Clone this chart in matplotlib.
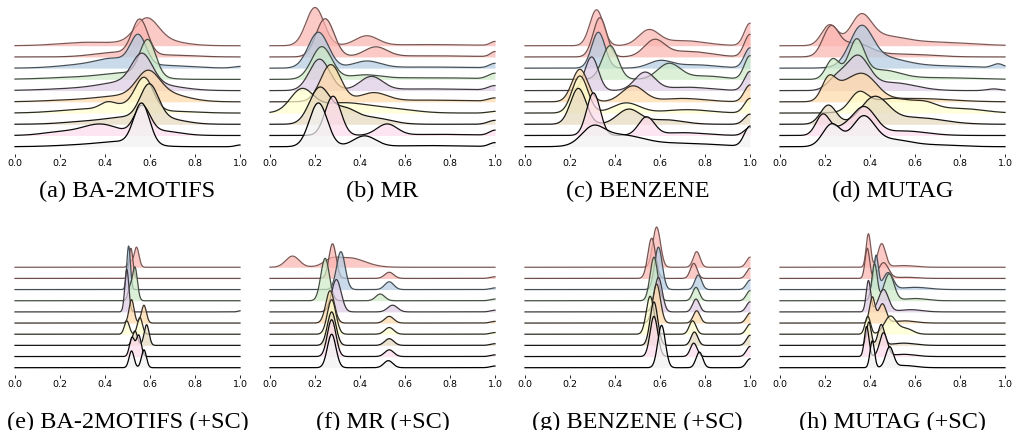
import numpy as np
import matplotlib.pyplot as plt
from matplotlib.colors import to_rgb

# ridge shapes, top ridge first: (centre, width, height in rows)
ba2motifs = [
    [(0.585, 0.05, 1.9), (0.62, 0.1, 0.6), (0.32, 0.12, 0.3)],
    [(0.555, 0.035, 3.1), (0.45, 0.1, 0.4), (0.7, 0.1, 0.15)],
    [(0.548, 0.035, 2.6), (0.44, 0.07, 0.6), (0.33, 0.12, 0.35), (0.65, 0.12, 0.25), (1.0, 0.03, 0.15)],
    [(0.59, 0.035, 3.2), (0.5, 0.1, 0.5), (0.3, 0.15, 0.2)],
    [(0.565, 0.045, 2.6), (0.48, 0.1, 0.6), (0.65, 0.1, 0.4), (0.3, 0.15, 0.2)],
    [(0.59, 0.05, 2.0), (0.65, 0.1, 0.8), (0.45, 0.1, 0.4), (0.25, 0.12, 0.15)],
    [(0.575, 0.04, 2.8), (0.48, 0.08, 0.6), (0.41, 0.03, 0.4), (0.3, 0.12, 0.3), (0.7, 0.1, 0.15)],
    [(0.597, 0.04, 3.0), (0.5, 0.1, 0.6), (0.3, 0.1, 0.2), (0.68, 0.08, 0.4)],
    [(0.565, 0.035, 2.4), (0.38, 0.08, 1.0), (0.65, 0.08, 0.4), (0.2, 0.08, 0.3)],
    [(0.563, 0.035, 3.6), (0.48, 0.1, 0.4), (0.3, 0.12, 0.15), (1.0, 0.02, 0.15)],
]
mr = [
    [(0.2, 0.04, 3.4), (0.43, 0.05, 0.85), (1.0, 0.02, 0.35), (0.7, 0.2, 0.1)],
    [(0.245, 0.04, 3.4), (0.47, 0.05, 0.85), (1.0, 0.02, 0.45), (0.7, 0.2, 0.1)],
    [(0.215, 0.045, 3.2), (0.43, 0.06, 0.6), (1.0, 0.025, 0.4), (0.7, 0.2, 0.1)],
    [(0.23, 0.045, 2.9), (0.42, 0.07, 0.35), (1.0, 0.03, 0.5), (0.7, 0.2, 0.15)],
    [(0.22, 0.045, 2.8), (0.45, 0.05, 1.2), (1.0, 0.03, 0.4), (0.7, 0.2, 0.15)],
    [(0.27, 0.045, 3.3), (0.46, 0.06, 0.75), (1.0, 0.03, 0.3), (0.7, 0.2, 0.15)],
    [(0.14, 0.05, 1.9), (0.32, 0.12, 0.9), (0.55, 0.1, 0.3), (1.0, 0.03, 0.15)],
    [(0.22, 0.045, 3.2), (0.33, 0.05, 1.2), (0.45, 0.08, 0.6), (1.0, 0.03, 0.35)],
    [(0.28, 0.035, 3.5), (0.52, 0.045, 1.0), (1.0, 0.025, 0.45), (0.75, 0.15, 0.1)],
    [(0.215, 0.04, 3.9), (0.42, 0.05, 0.95), (1.0, 0.025, 0.35), (0.7, 0.15, 0.1)],
]
benzene = [
    [(0.318, 0.03, 3.2), (0.55, 0.045, 1.3), (0.7, 0.1, 0.45), (1.0, 0.025, 2.0)],
    [(0.333, 0.03, 3.5), (0.575, 0.045, 1.4), (0.72, 0.1, 0.5), (1.0, 0.025, 2.0)],
    [(0.326, 0.03, 3.2), (0.6, 0.05, 0.6), (0.75, 0.1, 0.3), (1.0, 0.025, 1.8)],
    [(0.378, 0.035, 3.0), (0.64, 0.05, 1.4), (0.8, 0.08, 0.3), (1.0, 0.025, 2.1)],
    [(0.296, 0.03, 3.0), (0.533, 0.045, 1.6), (0.72, 0.1, 0.3), (1.0, 0.025, 1.7)],
    [(0.244, 0.035, 2.9), (0.48, 0.05, 1.4), (0.7, 0.1, 0.3), (1.0, 0.025, 1.5)],
    [(0.244, 0.035, 3.3), (0.45, 0.06, 0.9), (0.72, 0.1, 0.3), (1.0, 0.025, 1.3)],
    [(0.237, 0.035, 3.2), (0.46, 0.05, 1.3), (0.62, 0.08, 0.4), (1.0, 0.025, 0.9)],
    [(0.304, 0.03, 3.8), (0.54, 0.035, 1.6), (0.7, 0.1, 0.25), (1.0, 0.025, 0.7)],
    [(0.3, 0.05, 1.4), (0.42, 0.1, 1.0), (0.7, 0.15, 0.3), (1.0, 0.025, 1.8)],
]
mutag = [
    [(0.22, 0.035, 1.8), (0.36, 0.045, 2.3), (0.45, 0.1, 0.8), (0.7, 0.15, 0.3)],
    [(0.225, 0.035, 2.4), (0.33, 0.07, 1.2), (0.55, 0.12, 0.25)],
    [(0.36, 0.05, 3.2), (0.45, 0.1, 0.9), (0.97, 0.025, 0.35), (0.7, 0.15, 0.2)],
    [(0.34, 0.035, 3.3), (0.235, 0.03, 1.8), (0.45, 0.08, 0.8), (0.7, 0.15, 0.15)],
    [(0.345, 0.05, 2.9), (0.25, 0.04, 1.0), (0.5, 0.1, 0.7), (0.95, 0.03, 0.15)],
    [(0.215, 0.03, 1.7), (0.37, 0.06, 2.3), (0.27, 0.05, 1.0), (0.6, 0.15, 0.3)],
    [(0.35, 0.04, 1.5), (0.5, 0.1, 1.3), (0.65, 0.05, 0.5), (0.8, 0.1, 0.4)],
    [(0.215, 0.035, 1.7), (0.42, 0.06, 2.3), (0.6, 0.12, 0.6)],
    [(0.19, 0.03, 1.8), (0.375, 0.05, 2.4), (0.28, 0.05, 0.6), (0.55, 0.1, 0.4)],
    [(0.23, 0.04, 2.0), (0.37, 0.05, 2.6), (0.5, 0.08, 0.6), (0.7, 0.1, 0.15)],
]
ba2motifs_sc = [
    [(0.54, 0.011, 1.8), (0.51, 0.009, 0.5)],
    [(0.515, 0.009, 2.7)],
    [(0.505, 0.008, 3.9)],
    [(0.533, 0.011, 3.0), (0.51, 0.009, 1.0)],
    [(0.497, 0.009, 3.8), (1.0, 0.01, 0.1)],
    [(0.518, 0.011, 2.1), (0.573, 0.011, 1.6)],
    [(0.497, 0.011, 1.2), (0.555, 0.011, 1.5)],
    [(0.533, 0.011, 1.3), (0.585, 0.011, 1.85)],
    [(0.52, 0.011, 1.7), (0.55, 0.011, 1.9)],
    [(0.518, 0.011, 1.5), (0.573, 0.011, 1.6)],
]
mr_sc = [
    [(0.1, 0.03, 1.0), (0.35, 0.07, 0.85), (0.27, 0.03, 0.4)],
    [(0.278, 0.016, 3.1), (0.53, 0.02, 0.55), (1.0, 0.02, 0.15)],
    [(0.315, 0.019, 3.4), (0.53, 0.02, 0.7), (1.0, 0.02, 0.15)],
    [(0.245, 0.019, 3.8), (0.49, 0.02, 0.6), (1.0, 0.02, 0.15)],
    [(0.295, 0.021, 2.9), (0.545, 0.022, 0.6), (1.0, 0.02, 0.15)],
    [(0.267, 0.019, 2.9), (0.53, 0.02, 0.6), (1.0, 0.02, 0.15)],
    [(0.274, 0.019, 3.1), (0.53, 0.02, 0.6), (1.0, 0.02, 0.15)],
    [(0.274, 0.019, 3.0), (0.53, 0.02, 0.6), (1.0, 0.02, 0.15)],
    [(0.274, 0.019, 3.3), (0.53, 0.02, 0.6), (1.0, 0.02, 0.15)],
    [(0.274, 0.019, 3.0), (0.526, 0.02, 0.63), (1.0, 0.02, 0.15)],
]
benzene_sc = [
    [(0.585, 0.017, 3.6), (0.763, 0.015, 1.4), (1.0, 0.016, 0.9)],
    [(0.563, 0.017, 3.6), (0.75, 0.015, 1.35), (1.0, 0.016, 0.9)],
    [(0.593, 0.017, 3.8), (0.77, 0.015, 1.3), (1.0, 0.016, 0.85)],
    [(0.573, 0.017, 3.9), (0.76, 0.015, 1.2), (1.0, 0.016, 0.9)],
    [(0.593, 0.017, 3.1), (0.76, 0.015, 1.15), (1.0, 0.016, 0.9)],
    [(0.585, 0.017, 3.5), (0.763, 0.015, 1.1), (1.0, 0.016, 0.9)],
    [(0.556, 0.017, 3.4), (0.745, 0.015, 1.2), (1.0, 0.016, 0.9)],
    [(0.573, 0.017, 3.9), (0.753, 0.015, 1.2), (1.0, 0.016, 0.9)],
    [(0.573, 0.017, 3.6), (0.75, 0.015, 1.2), (1.0, 0.016, 0.9)],
    [(0.607, 0.017, 3.8), (0.775, 0.015, 1.4), (1.0, 0.016, 0.8)],
]
mutag_sc = [
    [(0.393, 0.01, 3.0), (0.452, 0.017, 2.1), (0.55, 0.05, 0.15)],
    [(0.388, 0.01, 2.7), (0.46, 0.022, 1.4), (0.56, 0.05, 0.1)],
    [(0.427, 0.01, 3.0), (0.48, 0.022, 1.5), (0.6, 0.06, 0.2)],
    [(0.42, 0.012, 3.3), (0.485, 0.022, 2.4), (0.6, 0.05, 0.2)],
    [(0.393, 0.01, 2.8), (0.46, 0.022, 2.0), (0.58, 0.05, 0.2)],
    [(0.41, 0.012, 2.3), (0.455, 0.017, 1.7), (0.55, 0.05, 0.2)],
    [(0.39, 0.012, 1.6), (0.49, 0.027, 1.6), (0.56, 0.03, 0.5)],
    [(0.395, 0.01, 2.1), (0.45, 0.014, 1.85), (0.55, 0.05, 0.2)],
    [(0.385, 0.01, 2.7), (0.46, 0.017, 2.1), (0.55, 0.05, 0.2)],
    [(0.41, 0.01, 2.4), (0.487, 0.017, 1.8), (0.55, 0.05, 0.2)],
]

panels = [ba2motifs, mr, benzene, mutag, ba2motifs_sc, mr_sc, benzene_sc, mutag_sc]
captions = ['(a) BA-2MOTIFS', '(b) MR', '(c) BENZENE', '(d) MUTAG',
            '(e) BA-2MOTIFS (+SC)', '(f) MR (+SC)', '(g) BENZENE (+SC)', '(h) MUTAG (+SC)']
ticks = [0.0, 0.2, 0.4, 0.6, 0.8, 1.0]
tick_labels = ['0.0', '0.2', '0.4', '0.6', '0.8', '1.0']
# Pastel1, first colour repeated
fill_colors = ['#fbb4ae', '#fbb4ae', '#b3cde3', '#ccebc5', '#decbe4',
               '#fed9a6', '#ffffcc', '#e5d8bd', '#fddaec', '#f2f2f2']


def ridge(x, peaks):
    y = np.zeros_like(x)
    for c, w, h in peaks:
        y += h * np.exp(-0.5 * ((x - c) / w) ** 2)
    return y


W, H = 1013, 431
fig = plt.figure(figsize=(W / 100, H / 100), dpi=100)

lefts = [15, 270, 525, 780]
row_base = [147.7, 368.7]     # px of the lowest baseline
row_step = [11.22, 11.16]     # px between baselines
row_axis = [155.0, 375.5]     # px of x axis
row_caption = [197.0, 428.0]

x = np.linspace(0, 1, 1001)
n = len(fill_colors)

for p, ridges in enumerate(panels):
    r, c = divmod(p, 4)
    step = row_step[r]
    below = (row_axis[r] - row_base[r]) / step
    top = 13.0
    h_px = (row_axis[r] - row_base[r]) + top * step
    ax = fig.add_axes([lefts[c] / W, 1 - row_axis[r] / H, 225 / W, h_px / H])
    ax.set_xlim(0, 1)
    ax.set_ylim(-below, top)
    for i, peaks in enumerate(ridges):
        base = n - 1 - i
        y = base + ridge(x, peaks)
        k = 0.5 + 0.5 * i / (n - 1)
        lc = tuple(v * (1 - k) for v in to_rgb(fill_colors[i]))
        ax.fill_between(x, base, y, color=fill_colors[i], alpha=0.7, lw=0, zorder=2 * i + 1)
        ax.plot(x, y, color=lc, lw=0.9, zorder=2 * i + 2, clip_on=False)
    for s in ax.spines.values():
        s.set_visible(False)
    ax.set_yticks([])
    ax.set_xticks(ticks)
    ax.set_xticklabels(tick_labels, fontsize=6.8)
    ax.tick_params(axis='x', length=2.5, width=0.6, pad=0.5)
    ax.patch.set_alpha(0)

    fig.text((lefts[c] + 112.5) / W, 1 - row_caption[r] / H, captions[p],
             ha='center', va='baseline', fontsize=17.5, family='Liberation Serif')

fig.savefig('out.png', dpi=100)
